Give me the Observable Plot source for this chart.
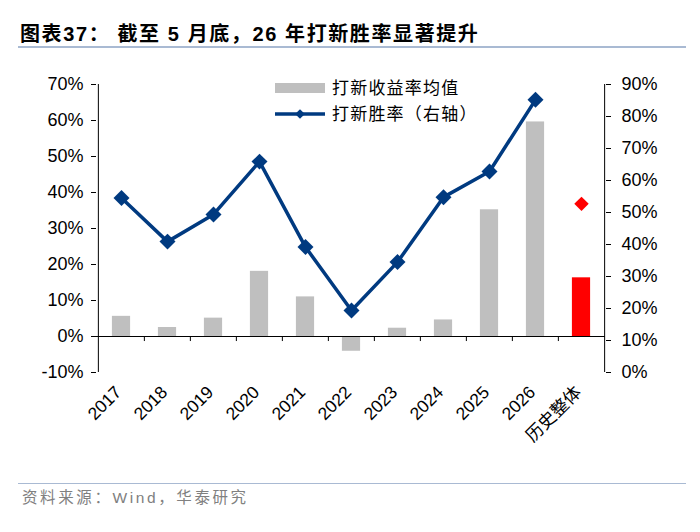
<!DOCTYPE html>
<html>
<head>
<meta charset="utf-8">
<script src="https://cdn.jsdelivr.net/npm/d3@7"></script>
<script src="https://cdn.jsdelivr.net/npm/@observablehq/plot@0.6"></script>
<style>
  body { margin: 0; background: #fff; }
  #wrap { position: relative; width: 700px; height: 532px; overflow: hidden;
          font-family: "Liberation Sans", "Noto Sans CJK SC", sans-serif; }
  #title { position: absolute; left: 20px; top: 22px; font-size: 20px; font-weight: bold;
           letter-spacing: 1.6px; color: #000; white-space: nowrap; line-height: 24px; }
  #titleLine { position: absolute; left: 18px; top: 46px; width: 668px; height: 2px; background: #A9BAD3; }
  #chart { position: absolute; left: 0; top: 52px; }
  #legend { position: absolute; left: 0; top: 0; }
  #footLine { position: absolute; left: 18px; top: 483px; width: 668px; height: 1px; background: #A9BAD3; }
  #source { position: absolute; left: 22px; top: 488px; font-size: 15.5px; letter-spacing: 2.6px;
            color: #808080; white-space: nowrap; line-height: 20px; }
</style>
</head>
<body>
<div id="wrap">
  <div id="title">图表37： 截至 5 月底，26 年打新胜率显著提升</div>
  <div id="titleLine"></div>
  <div id="chart"></div>
  <svg id="legend" width="700" height="140"></svg>
  <div id="footLine"></div>
  <div id="source">资料来源：Wind，华泰研究</div>
</div>
<script>
// ---- data ----
const categories = ["2017", "2018", "2019", "2020", "2021", "2022", "2023", "2024", "2025", "2026", "历史整体"];
const avgReturn = [5.6, 2.5, 5.1, 18.1, 11.0, -4.1, 2.3, 4.6, 35.2, 59.6, 16.3];   // 打新收益率均值 (left axis, %)
const winRate   = [54.5, 40.9, 49.4, 65.9, 39.2, 19.4, 34.5, 54.8, 62.8, 85.2, 52.7]; // 打新胜率 (right axis, %)
const leftTicks  = [-10, 0, 10, 20, 30, 40, 50, 60, 70];
const rightTicks = [0, 10, 20, 30, 40, 50, 60, 70, 80, 90];
const overallLabel = "历史整体";
const seriesNames = ["打新收益率均值", "打新胜率（右轴）"];

// ---- layout / style ----
const NAVY = "#003A80", GREY = "#BFBFBF", RED = "#FF0000";
const W = 700, H = 430, mL = 96, mR = 95, mT = 32, mB = 110;
const bw = (W - mL - mR) / categories.length;
const FONT = '"Liberation Sans", "Noto Sans CJK SC", sans-serif';

// map right-axis value (0..90) to left-axis units (-10..70)
const leftMin = leftTicks[0], leftMax = leftTicks[leftTicks.length - 1];
const rightMin = rightTicks[0], rightMax = rightTicks[rightTicks.length - 1];
const toLeft = r => leftMin + (r - rightMin) * (leftMax - leftMin) / (rightMax - rightMin);
const toRight = l => rightMin + (l - leftMin) * (rightMax - rightMin) / (leftMax - leftMin);

const rows = categories.map((c, i) => ({cat: c, ret: avgReturn[i], win: winRate[i], winL: toLeft(winRate[i])}));
const yearRows = rows.filter(d => d.cat !== overallLabel);
const totalRows = rows.filter(d => d.cat === overallLabel);
const firstCat = categories[0], lastCat = categories[categories.length - 1];

const chart = Plot.plot({
  width: W, height: H,
  marginLeft: mL, marginRight: mR, marginTop: mT, marginBottom: mB,
  style: {fontFamily: FONT, fontSize: "18px", color: "#000", background: "#fff", overflow: "visible"},
  x: {type: "band", domain: categories, padding: 0, label: null},
  y: {domain: [leftMin, leftMax], label: null},
  marks: [
    Plot.barY(yearRows, {x: "cat", y: "ret", fill: GREY, insetLeft: 13.9, insetRight: 13.9}),
    Plot.barY(totalRows, {x: "cat", y: "ret", fill: RED, insetLeft: 13.9, insetRight: 13.9}),
    Plot.ruleY([0], {stroke: "#000", strokeWidth: 1}),
    Plot.ruleX(categories.slice(1), {x: d => d, y1: 0, y2: -1.4, dx: -bw / 2, stroke: "#000", strokeWidth: 1}),
    // vertical axis lines at the left and right edges of the frame
    Plot.ruleX([firstCat], {x: d => d, y1: leftMin, y2: leftMax, dx: -bw / 2, stroke: "#000", strokeWidth: 1}),
    Plot.ruleX([lastCat], {x: d => d, y1: leftMin, y2: leftMax, dx: bw / 2, stroke: "#000", strokeWidth: 1}),
    Plot.line(yearRows, {x: "cat", y: "winL", stroke: NAVY, strokeWidth: 3.5}),
    Plot.dot(yearRows, {x: "cat", y: "winL", symbol: "diamond2", r: 7.2, fill: NAVY, stroke: "none"}),
    Plot.dot(totalRows, {x: "cat", y: "winL", symbol: "diamond2", r: 6.5, fill: RED, stroke: "none"}),
    Plot.axisY(leftTicks, {anchor: "left", tickSize: 5, tickPadding: 8, label: null,
                           tickFormat: d => d + "%"}),
    Plot.axisY(rightTicks.map(toLeft), {anchor: "right", tickSize: 5, tickPadding: 11, label: null,
                           tickFormat: d => Math.round(toRight(d)) + "%"}),
    Plot.axisX({anchor: "bottom", tickSize: 0, tickRotate: -45, tickPadding: 17, dx: -3, label: null,
                fontSize: 17.5})
  ]
});
document.getElementById("chart").appendChild(chart);

// ---- legend (inside plot area) ----
const lg = d3.select("#legend");
lg.append("rect").attr("x", 275).attr("y", 83).attr("width", 50).attr("height", 10).attr("fill", GREY);
lg.append("text").attr("x", 332).attr("y", 88).attr("dy", "0.35em")
  .attr("font-family", FONT).attr("font-size", 17).attr("letter-spacing", 1.2).attr("fill", "#000").text(seriesNames[0]);
lg.append("line").attr("x1", 275).attr("x2", 325).attr("y1", 114).attr("y2", 114)
  .attr("stroke", NAVY).attr("stroke-width", 3.5);
lg.append("path").attr("transform", "translate(300,114)")
  .attr("d", d3.symbol(d3.symbolDiamond2, 60)()).attr("fill", NAVY);
lg.append("text").attr("x", 332).attr("y", 114).attr("dy", "0.35em")
  .attr("font-family", FONT).attr("font-size", 17).attr("letter-spacing", 1.2).attr("fill", "#000").text(seriesNames[1]);
</script>
</body>
</html>
